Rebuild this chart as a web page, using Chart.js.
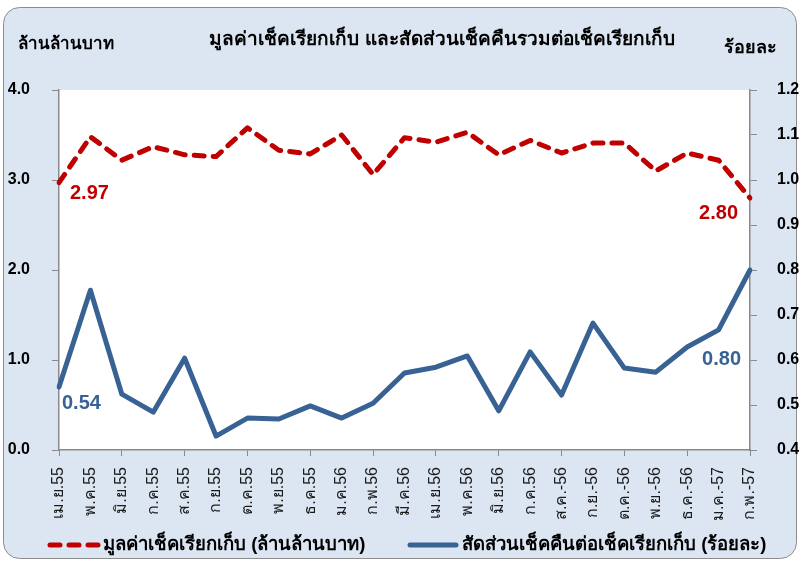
<!DOCTYPE html>
<html>
<head>
<meta charset="utf-8">
<script src="https://cdn.jsdelivr.net/npm/chart.js@4.4.0/dist/chart.umd.min.js"></script>
<style>
  html, body { margin: 0; padding: 0; background: #ffffff; }
  #wrap { width: 801px; height: 563px; position: relative; }
</style>
</head>
<body>
<div id="wrap"><canvas id="c" width="801" height="563"></canvas></div>
<script>
const categories = ['เม.ย.55','พ.ค.55','มิ.ย.55','ก.ค.55','ส.ค.55','ก.ย.55','ต.ค.55','พ.ย.55','ธ.ค.55','ม.ค.56','ก.พ.56','มี.ค.56','เม.ย.56','พ.ค.56','มิ.ย.56','ก.ค.56','ส.ค.-56','ก.ย.-56','ต.ค.-56','พ.ย.-56','ธ.ค.-56','ม.ค.-57','ก.พ.-57'];
const chequeValue = [2.97, 3.48, 3.22, 3.37, 3.28, 3.26, 3.58, 3.33, 3.29, 3.50, 3.06, 3.47, 3.42, 3.53, 3.28, 3.44, 3.30, 3.41, 3.41, 3.10, 3.30, 3.22, 2.80];
const returnRatio = [0.54, 0.755, 0.524, 0.484, 0.604, 0.431, 0.471, 0.469, 0.498, 0.471, 0.504, 0.571, 0.584, 0.609, 0.487, 0.618, 0.522, 0.682, 0.582, 0.573, 0.629, 0.667, 0.80];
const seriesNames = ['มูลค่าเช็คเรียกเก็บ (ล้านล้านบาท)', 'สัดส่วนเช็คคืนต่อเช็คเรียกเก็บ (ร้อยละ)'];
const titleText = 'มูลค่าเช็คเรียกเก็บ และสัดส่วนเช็คคืนรวมต่อเช็คเรียกเก็บ';
const leftAxisTitle = 'ล้านล้านบาท';
const rightAxisTitle = 'ร้อยละ';
const leftTicks = [0, 1, 2, 3, 4];
const rightTicks = [0.4, 0.5, 0.6, 0.7, 0.8, 0.9, 1.0, 1.1, 1.2];

const RED = '#c00000';
const BLUE = '#386294';
const AXIS = '#8a8a8a';
const BG = '#dce6f2';
const FONT = '"Liberation Sans Narrow", "Liberation Sans", "Noto Sans", sans-serif';
const NUMFONT = '"Liberation Sans", Arial, sans-serif';

const decorPlugin = {
  id: 'decor',
  beforeDraw(chart) {
    const ctx = chart.ctx;
    const ca = chart.chartArea;
    ctx.save();
    ctx.fillStyle = '#ffffff';
    ctx.fillRect(0, 0, chart.width, chart.height);
    const x = 3.5, y = 7.5, w = 793, h = 551, r = 16;
    ctx.beginPath();
    ctx.moveTo(x + r, y);
    ctx.lineTo(x + w - r, y);
    ctx.arcTo(x + w, y, x + w, y + r, r);
    ctx.lineTo(x + w, y + h - r);
    ctx.arcTo(x + w, y + h, x + w - r, y + h, r);
    ctx.lineTo(x + r, y + h);
    ctx.arcTo(x, y + h, x, y + h - r, r);
    ctx.lineTo(x, y + r);
    ctx.arcTo(x, y, x + r, y, r);
    ctx.closePath();
    ctx.fillStyle = BG;
    ctx.fill();
    ctx.strokeStyle = '#8c8c8c';
    ctx.lineWidth = 1;
    ctx.stroke();
    ctx.fillStyle = '#ffffff';
    ctx.fillRect(ca.left, ca.top, ca.right - ca.left, ca.bottom - ca.top);
    ctx.fillStyle = '#000000';
    ctx.textBaseline = 'middle';
    ctx.font = 'bold 19px ' + FONT;
    ctx.textAlign = 'center';
    ctx.fillText(titleText, 442, 40);
    ctx.font = 'bold 17px ' + FONT;
    ctx.textAlign = 'left';
    ctx.fillText(leftAxisTitle, 18, 44);
    ctx.font = 'bold 18px ' + FONT;
    ctx.fillText(rightAxisTitle, 724, 48);
    ctx.restore();
  },
  afterDraw(chart) {
    const ctx = chart.ctx;
    ctx.save();
    const m0 = chart.getDatasetMeta(0).data;
    const m1 = chart.getDatasetMeta(1).data;
    const n = categories.length - 1;
    ctx.font = 'bold 20px ' + NUMFONT;
    ctx.textBaseline = 'middle';
    ctx.fillStyle = RED;
    ctx.textAlign = 'left';
    ctx.fillText(chequeValue[0].toFixed(2), m0[0].x + 11, m0[0].y + 11);
    ctx.textAlign = 'right';
    ctx.fillText(chequeValue[n].toFixed(2), m0[n].x - 12, m0[n].y + 15);
    ctx.fillStyle = BLUE;
    ctx.textAlign = 'left';
    ctx.fillText(returnRatio[0].toFixed(2), m1[0].x + 3, m1[0].y + 16);
    ctx.textAlign = 'right';
    ctx.fillText(returnRatio[n].toFixed(2), m1[n].x - 9, m1[n].y + 89);
    const ly = 545;
    ctx.lineCap = 'round';
    ctx.strokeStyle = RED;
    ctx.lineWidth = 5;
    ctx.setLineDash([10, 9]);
    ctx.beginPath();
    ctx.moveTo(50, ly);
    ctx.lineTo(98, ly);
    ctx.stroke();
    ctx.setLineDash([]);
    ctx.strokeStyle = BLUE;
    ctx.beginPath();
    ctx.moveTo(410, ly);
    ctx.lineTo(456, ly);
    ctx.stroke();
    ctx.fillStyle = '#000000';
    ctx.font = 'bold 18.5px ' + FONT;
    ctx.textAlign = 'left';
    ctx.fillText(seriesNames[0], 103, ly);
    ctx.fillText(seriesNames[1], 462, ly);
    ctx.restore();
  }
};

new Chart(document.getElementById('c'), {
  type: 'line',
  data: {
    labels: categories,
    datasets: [
      {
        label: seriesNames[0],
        data: chequeValue,
        yAxisID: 'yL',
        borderColor: RED,
        borderWidth: 5,
        borderDash: [10, 9],
        borderCapStyle: 'round',
        borderJoinStyle: 'round',
        pointRadius: 0,
        tension: 0,
        fill: false
      },
      {
        label: seriesNames[1],
        data: returnRatio,
        yAxisID: 'yR',
        borderColor: BLUE,
        borderWidth: 5,
        borderCapStyle: 'round',
        borderJoinStyle: 'round',
        pointRadius: 0,
        tension: 0,
        fill: false
      }
    ]
  },
  options: {
    responsive: false,
    animation: false,
    layout: { padding: { top: 90, left: 0, right: 0, bottom: 0 } },
    plugins: {
      legend: { display: false },
      title: { display: false },
      tooltip: { enabled: false }
    },
    scales: {
      x: {
        type: 'category',
        offset: false,
        grid: {
          drawOnChartArea: false,
          drawTicks: true,
          tickLength: 6,
          tickColor: (c) => (c.index % 2 === 0 ? AXIS : 'rgba(0,0,0,0)'),
          color: AXIS
        },
        border: { display: true, color: AXIS, width: 1.5 },
        ticks: {
          autoSkip: false,
          maxRotation: 90,
          minRotation: 90,
          padding: 11,
          color: '#1a1a1a',
          font: { family: NUMFONT, size: 16 }
        },
        afterFit: (s) => { s.height = 113; }
      },
      yL: {
        position: 'left',
        min: 0,
        max: 4,
        afterBuildTicks: (s) => { s.ticks = leftTicks.map(v => ({ value: v })); },
        grid: { drawOnChartArea: false, drawTicks: true, tickLength: 7, color: AXIS },
        border: { display: true, color: AXIS, width: 1.5 },
        ticks: {
          padding: 22,
          color: '#000000',
          font: { family: NUMFONT, size: 16, weight: 'bold' },
          callback: (v) => Number(v).toFixed(1)
        },
        afterFit: (s) => { s.width = 59; }
      },
      yR: {
        position: 'right',
        min: 0.4,
        max: 1.2,
        afterBuildTicks: (s) => { s.ticks = rightTicks.map(v => ({ value: v })); },
        grid: { drawOnChartArea: false, drawTicks: true, tickLength: 7, color: AXIS },
        border: { display: true, color: AXIS, width: 1.5 },
        ticks: {
          padding: 20,
          color: '#000000',
          font: { family: NUMFONT, size: 16, weight: 'bold' },
          callback: (v) => Number(v).toFixed(1)
        },
        afterFit: (s) => { s.width = 51; }
      }
    }
  },
  plugins: [decorPlugin]
});
</script>
</body>
</html>
